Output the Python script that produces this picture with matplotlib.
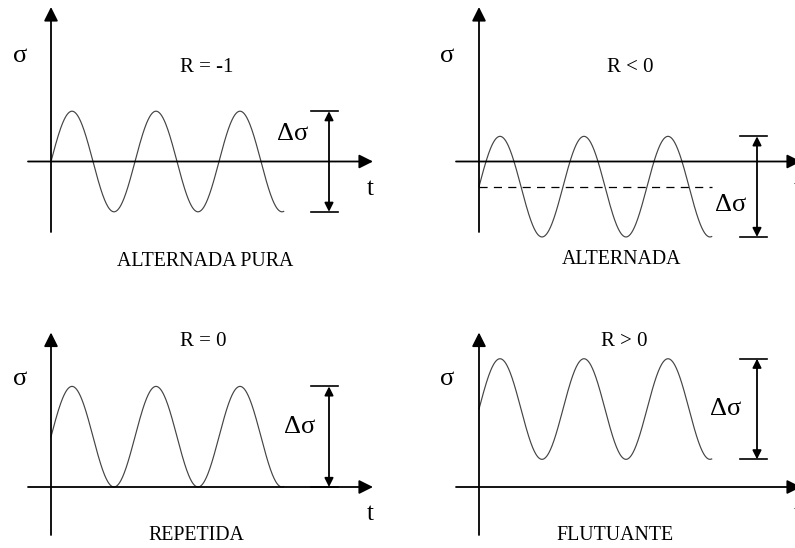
import numpy as np
import matplotlib
matplotlib.use("Agg")
import matplotlib.pyplot as plt

# fatigue loading regimes: mean stress and stress amplitude (in units of amplitude)
regime_names = ["ALTERNADA PURA", "ALTERNADA", "REPETIDA", "FLUTUANTE"]
ratio_labels = ["R = -1", "R < 0", "R = 0", "R > 0"]
mean_stress = [0.0, -0.5, 1.0, 1.55]
stress_amplitude = [1.0, 1.0, 1.0, 1.0]
n_cycles = 2.77

W, H = 795, 548
PX_PER_CYCLE = 84.0
PX_PER_SIGMA = 50.3

# panel origins in pixels (x from left, y from top)
origins = [(51, 161.5), (479, 161.5), (51, 487), (479, 487)]
y_axis_bottom = [70.5, 70.5, 48, 48]

sigma_pos = [(20, 56), (447, 56), (20, 379), (447, 379)]
t_pos = [(370, 189), (797, 189), (370, 514), (797, 514)]
ratio_pos = [(207, 68), (630, 67), (203, 342), (624, 341)]
name_pos = [(205, 262), (622, 260), (196, 535), (615, 535)]
delta_pos = [(293, 134), (731, 205), (300, 427), (726, 409)]

serif = ["Liberation Serif", "DejaVu Serif"]

fig = plt.figure(figsize=(W / 100, H / 100), dpi=100)
fig.patch.set_facecolor("white")


def fig_xy(px, py):
    return px / W, 1 - py / H


def make_axes(ox, oy):
    ax = fig.add_axes([0, 0, 1, 1])
    ax.patch.set_alpha(0)
    ax.set_xlim(-ox / PX_PER_CYCLE, (W - ox) / PX_PER_CYCLE)
    ax.set_ylim((oy - H) / PX_PER_SIGMA, oy / PX_PER_SIGMA)
    ax.axis("off")
    return ax


def px_t(dx):
    return dx / PX_PER_CYCLE


def px_s(dy):
    return dy / PX_PER_SIGMA


def arrow(ax, tip, tail, style, scale):
    ax.annotate("", xy=tip, xytext=tail, annotation_clip=False,
                arrowprops=dict(arrowstyle=style, color="black", lw=1.3,
                                mutation_scale=scale, shrinkA=0, shrinkB=0))


for i in range(4):
    ox, oy = origins[i]
    ax = make_axes(ox, oy)
    sm = mean_stress[i]
    sa = stress_amplitude[i]

    # coordinate axes with arrow heads
    arrow(ax, (px_t(322), 0), (px_t(-23), 0), "-|>", 21)
    arrow(ax, (0, px_s(154.5)), (0, -px_s(y_axis_bottom[i])), "-|>", 21)

    # stress history
    t = np.linspace(0, n_cycles, 600)
    ax.plot(t, sm + sa * np.sin(2 * np.pi * t), color="#444444", lw=0.85)

    if sm < 0:
        ax.plot([0, n_cycles], [sm, sm], color="black", lw=0.9,
                dashes=(6.5, 5))

    # stress range bracket
    xb = px_t(278)
    lo, hi = sm - sa, sm + sa
    for yv in (lo, hi):
        ax.plot([px_t(260.5), px_t(287.5)], [yv, yv], color="black", lw=1.2)
    arrow(ax, (xb, hi), (xb, lo), "<|-|>", 13)

    fig.text(*fig_xy(*sigma_pos[i]), "σ", ha="center", va="center",
             fontsize=19, family=serif)
    fig.text(*fig_xy(*t_pos[i]), "t", ha="center", va="center",
             fontsize=18, family=serif)
    fig.text(*fig_xy(*delta_pos[i]), "Δσ", ha="center", va="center",
             fontsize=19, family=serif)
    fig.text(*fig_xy(*ratio_pos[i]), ratio_labels[i], ha="center",
             va="center", fontsize=15, family=serif)
    fig.text(*fig_xy(*name_pos[i]), regime_names[i], ha="center",
             va="center", fontsize=14.3, family=serif)

fig.savefig("out.png", dpi=100, facecolor="white")
